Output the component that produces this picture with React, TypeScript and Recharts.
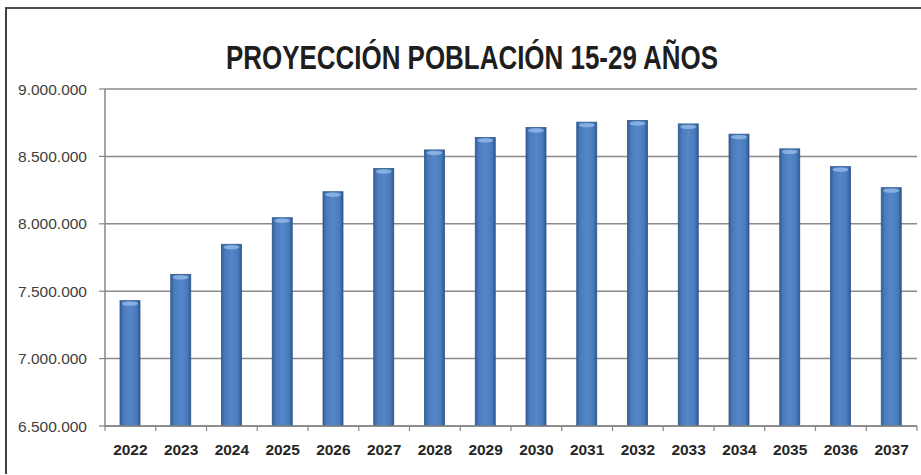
import React from "react";
import { BarChart, Bar, XAxis, YAxis, CartesianGrid } from "recharts";

const years = ["2022", "2023", "2024", "2025", "2026", "2027", "2028", "2029", "2030", "2031", "2032", "2033", "2034", "2035", "2036", "2037"];
const population = [7430000, 7625000, 7848000, 8045000, 8238000, 8410000, 8548000, 8640000, 8714000, 8754000, 8766000, 8741000, 8665000, 8556000, 8424000, 8268000];
const yTicks = [6500000, 7000000, 7500000, 8000000, 8500000, 9000000];
const title = "PROYECCIÓN POBLACIÓN 15-29 AÑOS";

const data = years.map((year, i) => ({ year, value: population[i] }));

function formatThousands(v: number): string {
  return v.toString().replace(/\B(?=(\d{3})+(?!\d))/g, ".");
}

function CylinderBar(props: any) {
  const { x, y, width, height } = props;
  if (height == null || height <= 0) return null;
  return (
    <g>
      <rect x={x} y={y} width={width} height={height} fill="url(#barGrad)" />
      <rect x={x} y={y} width={width} height={height} fill="none" stroke="#2f5688" strokeWidth={0.8} />
      <ellipse cx={x + width / 2} cy={y + 3} rx={width / 2 - 2} ry={2.2} fill="#8fb6e6" opacity={0.85} />
    </g>
  );
}

// year label plus small tick marks on the category boundaries
function XTick(props: any) {
  const { x, y, payload, index } = props;
  const half = payload?.offset ?? 25.4;
  const top = y - 8;
  return (
    <g>
      <line x1={x - half} y1={top} x2={x - half} y2={top + 5} stroke="#868686" strokeWidth={1.2} />
      {index === years.length - 1 && (
        <line x1={x + half} y1={top} x2={x + half} y2={top + 5} stroke="#868686" strokeWidth={1.2} />
      )}
      <text x={x} y={y + 21} textAnchor="middle" fill="#262626" fontSize={15.5} fontWeight="bold" fontFamily="'Liberation Sans', Arial, sans-serif">
        {payload.value}
      </text>
    </g>
  );
}

export default function App() {
  return (
    <div style={{ position: "absolute", left: 0, top: 0, width: 921, height: 475, background: "#fff", overflow: "hidden" }}>
      <div style={{ position: "absolute", left: 5, top: 7, width: 930, height: 465, borderTop: "2px solid #505050", borderLeft: "2px solid #404040" }} />
      <svg width={921} height={80} style={{ position: "absolute", left: 0, top: 0 }}>
        <text x={472} y={69} textAnchor="middle" fontSize={33} fontWeight="bold" fill="#1e1e1e" fontFamily="'Liberation Sans', Arial, sans-serif" textLength={492} lengthAdjust="spacingAndGlyphs">
          {title}
        </text>
      </svg>
      <BarChart
        width={921}
        height={475}
        data={data}
        margin={{ top: 89, right: 4, bottom: 19, left: 0 }}
        barSize={20}
        style={{ position: "absolute", left: 0, top: 0 }}
      >
        <defs>
          <linearGradient id="barGrad" x1="0" y1="0" x2="1" y2="0">
            <stop offset="0%" stopColor="#34609a" />
            <stop offset="18%" stopColor="#4a7bbd" />
            <stop offset="50%" stopColor="#5587c8" />
            <stop offset="82%" stopColor="#4a7bbd" />
            <stop offset="100%" stopColor="#2f5a92" />
          </linearGradient>
        </defs>
        <CartesianGrid horizontal vertical={false} stroke="#8a8a8a" strokeWidth={1.5} />
        <XAxis
          dataKey="year"
          axisLine={{ stroke: "#868686", strokeWidth: 1.5 }}
          tickLine={false}
          tick={<XTick />}
          interval={0}
          height={30}
        />
        <YAxis
          domain={[6500000, 9000000]}
          ticks={yTicks}
          allowDataOverflow
          width={105}
          tickFormatter={formatThousands}
          axisLine={{ stroke: "#868686", strokeWidth: 1.5 }}
          tickLine={{ stroke: "#868686", strokeWidth: 1.2 }}
          tickSize={6}
          tickMargin={12}
          tick={{ fill: "#404040", fontSize: 15.5, fontFamily: "'Liberation Sans', Arial, sans-serif" }}
        />
        <Bar dataKey="value" shape={<CylinderBar />} isAnimationActive={false} />
      </BarChart>
    </div>
  );
}
